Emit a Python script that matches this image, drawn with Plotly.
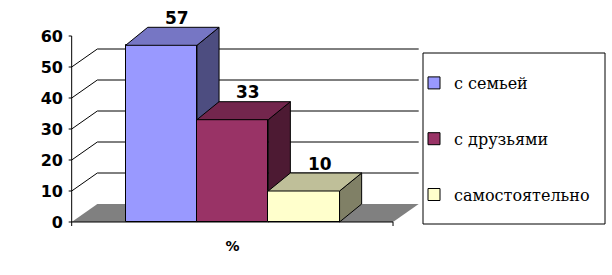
import plotly.graph_objects as go

# ---------------- data ----------------
categories = ["с семьей", "с друзьями", "самостоятельно"]
values = [57, 33, 10]
axis_category = "%"
y_ticks = [0, 10, 20, 30, 40, 50, 60]

front_colors = ["#9999FF", "#993366", "#FFFFCC"]
top_colors = ["#7676C4", "#73264D", "#BFBF99"]
side_colors = ["#4D4D80", "#4D1A33", "#808066"]

# ---------------- geometry (style) ----------------
W, H = 612, 275
PX = 71.3          # px per bar slot
PY = 3.1           # px per value unit
BAR0_PX = 161.3    # pixel centre of first bar
ZERO_PX = 222      # pixel of value 0
PL, PR, PT, PB = 67, 440, 8, 234
DY = 18 / PY       # depth in value units
DX_BAR = 0.31      # bar depth in slot units
DX_WALL = 0.36
FLOOR_L, FLOOR_R = -1.257, 3.25
TICK = 3 / PX

xr = [(PL - BAR0_PX) / PX, (PR - BAR0_PX) / PX]
yr = [-(PB - ZERO_PX) / PY, (ZERO_PX - PT) / PY]


def px_paper(px):
    return (px - PL) / (PR - PL)


def py_paper(py):
    return (PB - py) / (PB - PT)


fig = go.Figure()

for i, (cat, v) in enumerate(zip(categories, values)):
    xa = "x" if i == 0 else f"x{i + 1}"
    x0, x1 = i - 0.5, i + 0.5
    fig.add_trace(go.Bar(
        x=[i], y=[v], width=1, xaxis=xa, yaxis="y",
        name=cat, legendgroup=str(i),
        marker=dict(color=front_colors[i], line=dict(color="#000000", width=1)),
        hoverinfo="skip",
    ))
    # side face
    fig.add_trace(go.Scatter(
        x=[x1, x1, x1 + DX_BAR, x1 + DX_BAR, x1],
        y=[0, v, v + DY, DY, 0],
        xaxis=xa, yaxis="y", mode="lines", fill="toself",
        fillcolor=side_colors[i], line=dict(color="#000000", width=1),
        showlegend=False, hoverinfo="skip", legendgroup=str(i),
    ))
    # top face
    fig.add_trace(go.Scatter(
        x=[x0, x1, x1 + DX_BAR, x0 + DX_BAR, x0],
        y=[v, v, v + DY, v + DY, v],
        xaxis=xa, yaxis="y", mode="lines", fill="toself",
        fillcolor=top_colors[i], line=dict(color="#000000", width=1),
        showlegend=False, hoverinfo="skip", legendgroup=str(i),
    ))

shapes = []
# floor
shapes.append(dict(
    type="path", xref="x", yref="y", layer="below",
    path=f"M{FLOOR_L},0 L{FLOOR_R},0 L{FLOOR_R + DX_WALL},{DY} L{FLOOR_L + DX_WALL},{DY} Z",
    fillcolor="#808080", line=dict(width=0),
))
# gridlines with diagonal and tick
for t in y_ticks:
    if 0 < t < max(y_ticks):
        p = (f"M{FLOOR_L - TICK},{t} L{FLOOR_L},{t} L{FLOOR_L + DX_WALL},{t + DY} "
             f"L{FLOOR_R + DX_WALL},{t + DY}")
    else:
        p = f"M{FLOOR_L - TICK},{t} L{FLOOR_L},{t}"
    shapes.append(dict(type="path", xref="x", yref="y", layer="below", path=p,
                       line=dict(color="#000000", width=1)))
# axis lines
shapes.append(dict(type="path", xref="x", yref="y", layer="below",
                   path=f"M{FLOOR_L},0 L{FLOOR_L},{max(y_ticks)}",
                   line=dict(color="#000000", width=1)))
shapes.append(dict(type="path", xref="x", yref="y", layer="below",
                   path=f"M{FLOOR_L},{-4 / PY} L{FLOOR_L},0 L{FLOOR_R},0 L{FLOOR_R},{-4 / PY}",
                   line=dict(color="#000000", width=1)))
# legend box
shapes.append(dict(type="rect", xref="paper", yref="paper",
                   x0=px_paper(423), x1=px_paper(605), y0=py_paper(224), y1=py_paper(53),
                   line=dict(color="#000000", width=1), fillcolor="rgba(0,0,0,0)"))

annotations = []
for i, v in enumerate(values):
    annotations.append(dict(
        x=i + 0.22, y=v + 8.8, xref="x", yref="y", text=str(v), showarrow=False,
        font=dict(family="DejaVu Sans", size=17, color="#000000", weight="bold"),
    ))

axis_common = dict(range=xr, showgrid=False, zeroline=False, showline=False, fixedrange=True)
fig.update_layout(
    width=W, height=H,
    margin=dict(l=PL, r=W - PR, t=PT, b=H - PB, pad=0),
    paper_bgcolor="#FFFFFF", plot_bgcolor="rgba(0,0,0,0)",
    barmode="overlay", bargap=0,
    xaxis=dict(**axis_common, tickvals=[1], ticktext=[axis_category], ticks="",
               ticklabelstandoff=2,
               tickfont=dict(family="DejaVu Sans", size=14, color="#000000", weight="bold")),
    xaxis2=dict(**axis_common, overlaying="x", matches="x", visible=False),
    xaxis3=dict(**axis_common, overlaying="x", matches="x", visible=False),
    yaxis=dict(range=yr, tickvals=y_ticks, ticks="", showgrid=False, zeroline=False,
               showline=False, fixedrange=True, ticklabelstandoff=3,
               tickfont=dict(family="DejaVu Sans", size=16, color="#000000", weight="bold")),
    legend=dict(
        x=px_paper(414), y=py_paper(66), xanchor="left", yanchor="top",
        font=dict(family="DejaVu Serif", size=16, color="#000000"),
        bgcolor="rgba(0,0,0,0)", borderwidth=0, tracegroupgap=32,
        traceorder="grouped",
    ),
    shapes=shapes, annotations=annotations, showlegend=True,
)

fig.write_html("out.html")
